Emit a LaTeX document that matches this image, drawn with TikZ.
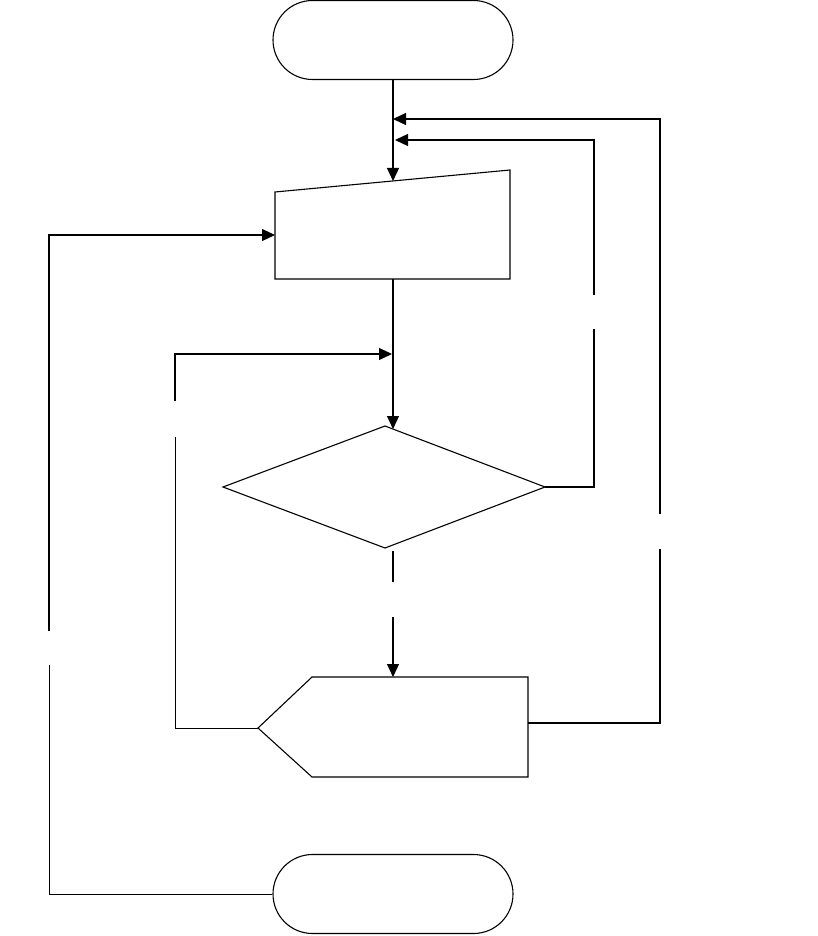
\documentclass[tikz,border=0pt]{standalone}
\usetikzlibrary{arrows.meta,shapes.misc}
\begin{document}
\begin{tikzpicture}[x=1pt,y=-1pt,
  shapeline/.style={draw=black,line width=1.1pt,line join=miter},
  term/.style={rounded rectangle,shapeline,minimum width=240pt,minimum height=79pt,inner sep=0pt},
  conn/.style={draw=black,line width=1.2pt},
  thin/.style={draw=black,line width=0.8pt},
  tip/.style={-{Triangle[length=13pt,width=12pt]}}]
\useasboundingbox (0,0) rectangle (818,936);
% terminals
\node[term] (start) at (393,40) {};
\node[term] (end) at (393,894) {};
% manual input
\coordinate (miTL) at (275,192);
\coordinate (miTR) at (510,170);
\coordinate (miBR) at (510,279);
\coordinate (miBL) at (275,279);
\draw[shapeline] (miTL) -- (miTR) -- (miBR) -- (miBL) -- cycle;
\coordinate (miTop) at (393,181);
\coordinate (miBot) at (393,279);
\coordinate (miLeft) at (275,235);
% decision
\coordinate (dT) at (385,426);
\coordinate (dR) at (545,487);
\coordinate (dB) at (385,548);
\coordinate (dL) at (223,487);
\draw[shapeline] (dT) -- (dR) -- (dB) -- (dL) -- cycle;
\coordinate (dIn) at (393,429);
\coordinate (dOut) at (393,551);
% display
\coordinate (pL) at (258,728);
\coordinate (pTL) at (312,677);
\coordinate (pTR) at (528,677);
\coordinate (pBR) at (528,777);
\coordinate (pBL) at (312,777);
\draw[shapeline] (pL) -- (pTL) -- (pTR) -- (pBR) -- (pBL) -- cycle;
\coordinate (pTop) at (393,677);
\coordinate (pRight) at (528,723);
% junction points on the main line
\coordinate (j1) at (393,119);
\coordinate (j2) at (395,140);
\coordinate (j3) at (392,354);
% connectors
\draw[conn,tip] (start.south) -- (miTop);
\draw[conn,tip] (miBot) -- (dIn);
\draw[conn] (dOut) -- (393,582);
\draw[conn,tip] (393,617) -- (pTop);
% decision right back to top
\draw[conn] (dR) -- (594,487) -- (594,329);
\draw[conn,tip] (594,295) -- (594,140) -- (j2);
% display right back to top
\draw[conn,line width=1.3pt] (pRight) -- (660,723) -- (660,549);
\draw[conn,tip,line width=1.3pt] (660,514) -- (660,119) -- (j1);
% display left back to decision input
\draw[thin] (pL) -- (175,728) -- (175,437);
\draw[conn,tip] (175,401) -- (175,354) -- (j3);
% end left back to manual input
\draw[thin] (end.west) -- (49,894) -- (49,665);
\draw[conn,tip] (49,631) -- (49,235) -- (miLeft);
\end{tikzpicture}
\end{document}
